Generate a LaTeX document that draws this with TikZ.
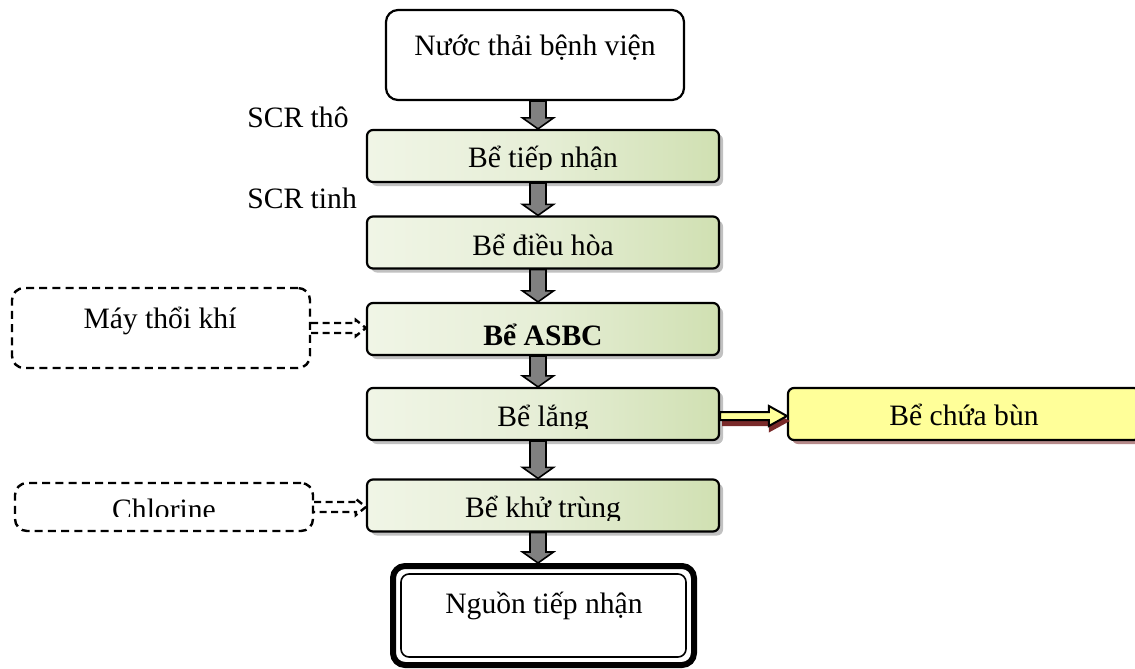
\documentclass[tikz,border=0pt]{standalone}
\usepackage{fontspec}
\setmainfont{Liberation Serif}
\usetikzlibrary{calc,shadows}
\definecolor{gLight}{HTML}{F0F5E6}
\definecolor{gMid}{HTML}{E6EED6}
\definecolor{gDark}{HTML}{D0E0B2}
\definecolor{arrGray}{HTML}{808080}
\definecolor{yel}{HTML}{FFFF99}
\definecolor{dred}{HTML}{7A2A2A}
\newcommand\garrow[2]{%
  \coordinate (gp) at (#1.south -| ax);
  \coordinate (gq) at (#2.north -| ax);
  \draw[garr] ($(gp)+(-8,0)$) -- ($(gq)+(-8,-11)$) -- ($(gq)+(-15.5,-11)$) -- (gq)
    -- ($(gq)+(15.5,-11)$) -- ($(gq)+(8,-11)$) -- ($(gp)+(8,0)$) -- cycle;}
\newcommand\darrow[2]{%
  \coordinate (dp) at (#1.east);
  \coordinate (dq) at (#2.west |- #1.east);
  \draw[darr] ($(dp)+(0,-5)$) -- ($(dq)+(-10,-5)$) -- ($(dq)+(-10,-8)$) -- (dq)
    -- ($(dq)+(-10,8)$) -- ($(dq)+(-10,5)$) -- ($(dp)+(0,5)$);}
\begin{document}
\begin{tikzpicture}[x=0.5pt,y=-0.5pt,
  txt/.style={font=\fontsize{14.8pt}{17pt}\selectfont, inner sep=0pt},
  gbox/.style={draw, line width=1.1pt, rounded corners=3pt,
    left color=gLight, right color=gDark, middle color=gMid,
    minimum width=176pt, minimum height=26pt, inner sep=0pt,
    drop shadow={shadow xshift=2pt, shadow yshift=-2pt, opacity=0.35, fill=black!70}},
  wbox/.style={draw, fill=white, line width=1.1pt, rounded corners=6pt, inner sep=0pt},
  dbox/.style={draw, dashed, dash pattern=on 4pt off 2.6pt, line width=1.2pt,
    rounded corners=6pt, inner sep=0pt},
  ybox/.style={draw, line width=1.1pt, rounded corners=3pt, fill=yel,
    minimum width=176pt, minimum height=26pt, inner sep=0pt,
    drop shadow={shadow xshift=2pt, shadow yshift=-2pt, opacity=0.55, fill=dred}},
  garr/.style={draw=black, fill=arrGray, line width=0.8pt, line join=miter},
  darr/.style={draw, dash pattern=on 3.5pt off 2.2pt, line width=1.2pt},
  yarr/.style={draw=black, fill=yel, line width=1pt, line join=miter},
]
\useasboundingbox (0,0) rectangle (1135,669);
\coordinate (ax) at (538,0);

% main column boxes
\node[wbox, minimum width=149pt, minimum height=45pt] (b0) at (535,55) {};
\node[gbox] (b1) at (543,156) {};
\node[gbox] (b2) at (543,242.5) {};
\node[gbox] (b3) at (543,329) {};
\node[gbox] (b4) at (543,414) {};
\node[gbox] (b5) at (543,505.5) {};
\node[draw, line width=3pt, rounded corners=6pt, minimum width=150.5pt, minimum height=49.5pt, inner sep=0pt] (b6) at (543.5,615.5) {};
\node[draw, line width=0.8pt, rounded corners=4pt, minimum width=142.5pt, minimum height=41.5pt, inner sep=0pt] (b6i) at (543.5,615.5) {};

% side boxes
\node[ybox] (bs) at (964,414) {};
\node[dbox, minimum width=149pt, minimum height=40pt] (m1) at (161,328) {};
\node[dbox, minimum width=149pt, minimum height=24pt] (m2) at (164,507) {};

% texts
\node[txt, anchor=base] (t0) at (535,55) {Nước thải bệnh viện};
\begin{scope}
  \clip (367,120) rectangle (719,169);
  \node[txt, anchor=base] (t1) at (543,167) {Bể tiếp nhận};
\end{scope}
\node[txt, anchor=base] (t2) at (543,255) {Bể điều hòa};
\node[txt, anchor=base, font=\fontsize{14.8pt}{17pt}\selectfont\bfseries] (t3) at (543,345) {Bể ASBC};
\begin{scope}
  \clip (367,380) rectangle (719,428);
  \node[txt, anchor=base] (t4) at (543,426) {Bể lắng};
\end{scope}
\begin{scope}
  \clip (367,470) rectangle (719,520);
  \node[txt, anchor=base] (t5) at (543,517) {Bể khử trùng};
\end{scope}
\node[txt, anchor=base] (t6) at (544,613) {Nguồn tiếp nhận};
\node[txt, anchor=base] (ts) at (964,425) {Bể chứa bùn};
\node[txt, anchor=base] (tm1) at (160,328) {Máy thổi khí};
\begin{scope}
  \clip (15,480) rectangle (313,516.5);
  \node[txt, anchor=base] (tm2) at (164,519) {Chlorine};
\end{scope}
\node[txt, anchor=base west] (l1) at (247,127) {SCR thô};
\node[txt, anchor=base west] (l2) at (247,208) {SCR tinh};

% gray flow arrows
\garrow{b0}{b1}
\garrow{b1}{b2}
\garrow{b2}{b3}
\garrow{b3}{b4}
\garrow{b4}{b5}
\garrow{b5}{b6}

% yellow arrow to sludge tank
\coordinate (yp) at ($(b4.east)+(0,2)$);
\coordinate (yq) at (bs.west |- yp);
\fill[dred] ($(yp)+(2,0)$) -- ($(yq)+(-18,0)$) -- ($(yq)+(-18,-6.5)$) -- ($(yq)+(3,5)$)
  -- ($(yq)+(-18,16.5)$) -- ($(yq)+(-18,10)$) -- ($(yp)+(2,10)$) -- cycle;
\draw[yarr] ($(yp)+(0,-4)$) -- ($(yq)+(-18,-4)$) -- ($(yq)+(-18,-10)$) -- (yq)
  -- ($(yq)+(-18,10)$) -- ($(yq)+(-18,4)$) -- ($(yp)+(0,4)$) -- cycle;

% dashed input arrows
\darrow{m1}{b3}
\darrow{m2}{b5}
\end{tikzpicture}
\end{document}
